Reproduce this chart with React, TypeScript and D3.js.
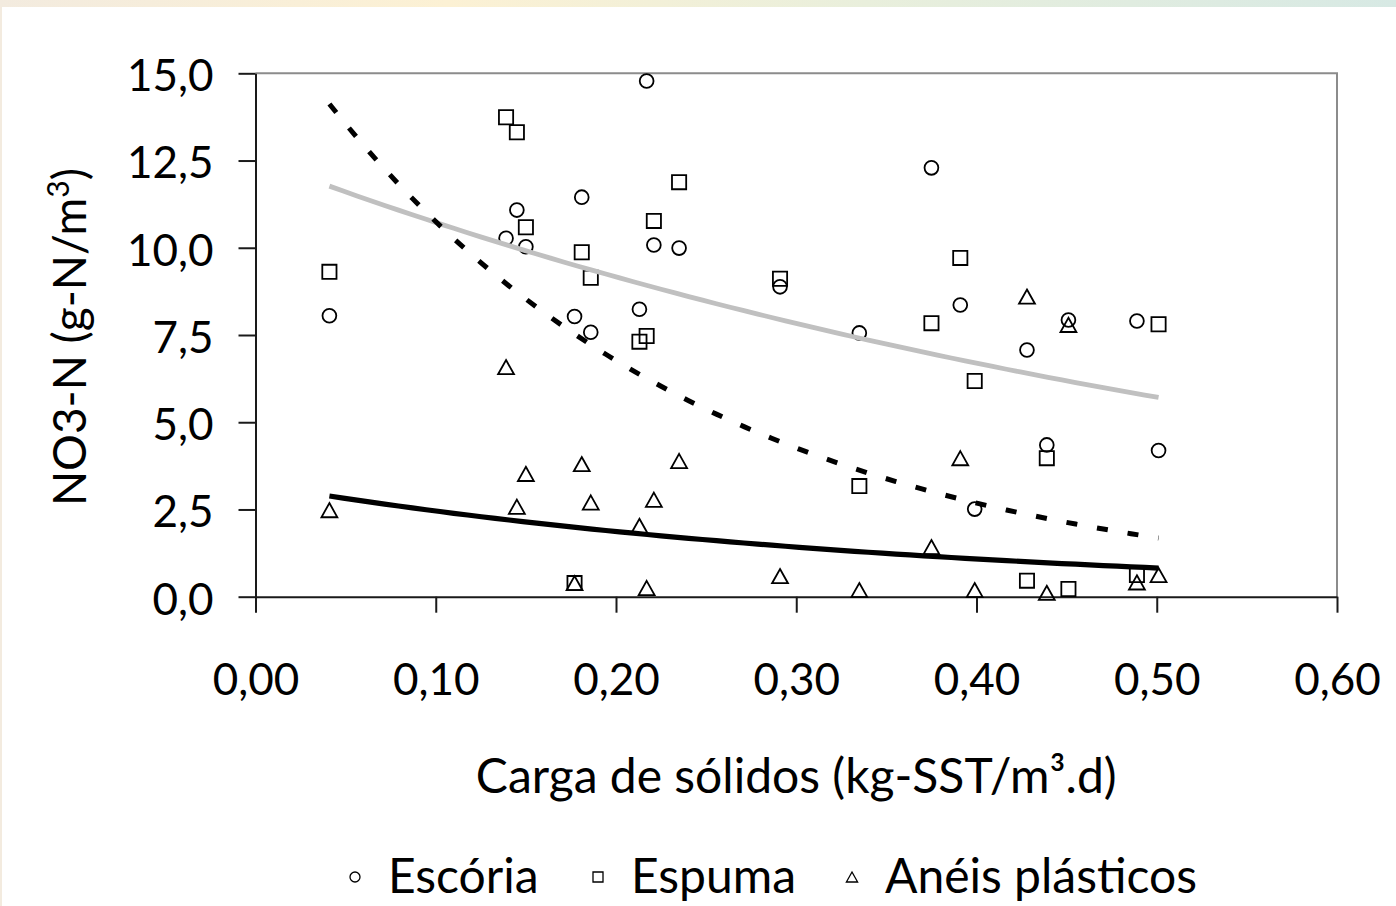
import React, { useEffect, useRef } from 'react';
import * as d3 from 'd3';

// Carga de sólidos (kg-SST/m³.d) – shared by the three media
const carga = [0.041, 0.139, 0.145, 0.150, 0.177, 0.181, 0.186, 0.213, 0.217, 0.221, 0.235,
  0.291, 0.335, 0.375, 0.391, 0.399, 0.428, 0.439, 0.451, 0.489, 0.501];

// NO3-N (g-N/m³)
const escoria = [8.05, 10.27, 11.08, 10.03, 8.03, 11.45, 7.58, 8.24, 14.78, 10.08, 9.99,
  8.88, 7.56, 12.29, 8.36, 2.51, 7.07, 4.35, 7.93, 7.90, 4.19];
const espuma = [9.31, 13.74, 13.31, 10.59, 0.39, 9.87, 9.14, 7.31, 7.47, 10.77, 11.88,
  9.11, 3.17, 7.84, 9.71, 6.18, 0.46, 3.97, 0.22, 0.62, 7.81];
const aneis = [2.48, 6.58, 2.58, 3.52, 0.39, 3.80, 2.70, 2.03, 0.25, 2.78, 3.89,
  0.59, 0.19, 1.42, 3.97, 0.19, 8.60, 0.11, 7.79, 0.41, 0.62];

// exponential trendlines, y = a·e^(b·x)
const trendEscoria = { a: 12.55, b: -1.572 };
const trendEspuma = { a: 17.07, b: -4.625 };
const trendAneis = { a: 3.228, b: -2.733 };

const yTicks = [0, 2.5, 5, 7.5, 10, 12.5, 15];
const xTicks = [0, 0.1, 0.2, 0.3, 0.4, 0.5, 0.6];

const legendNames = ['Escória', 'Espuma', 'Anéis plásticos'];

const FONT = "Lato, 'Open Sans', sans-serif";

const ptBR = d3.formatLocale({ decimal: ',', thousands: '.', grouping: [3], currency: ['', ''] });

// marker path centred on its bounding box
const markerPath = (shape: string, s: number) => {
  const h = s / 2;
  if (shape === 'circle') {
    const p = d3.path();
    p.arc(0, 0, h, 0, Math.PI * 2);
    p.closePath();
    return p.toString();
  }
  if (shape === 'square') return `M${-h},${-h}H${h}V${h}H${-h}Z`;
  const w = s * 0.56;
  return `M0,${-h}L${w},${h}L${-w},${h}Z`;
};

const App = () => {
  const svgRef = useRef<SVGSVGElement>(null);

  useEffect(() => {
    const W = 1396;
    const H = 906;
    const svg = d3.select(svgRef.current);
    svg.selectAll('*').remove();

    // background frame strip
    const defs = svg.append('defs');
    const grad = defs.append('linearGradient').attr('id', 'topStrip').attr('x1', 0).attr('x2', 1);
    [['0', '#f3ebdf'], ['0.32', '#fcf1d4'], ['0.62', '#e9efdc'], ['1', '#d7e9e4']].forEach(([o, c]) =>
      grad.append('stop').attr('offset', o).attr('stop-color', c));
    svg.append('rect').attr('width', W).attr('height', H).attr('fill', '#ffffff');
    svg.append('rect').attr('width', W).attr('height', 7).attr('fill', 'url(#topStrip)');
    svg.append('rect').attr('y', 7).attr('width', 2).attr('height', H - 7).attr('fill', '#f3ebdf');

    const x = d3.scaleLinear().domain([0, 0.6]).range([255.5, 1337]);
    const y = d3.scaleLinear().domain([0, 15]).range([596.7, 73.3]);

    // plot frame (top/right)
    svg.append('path')
      .attr('d', `M${x(0)},${y(15)}H${x(0.6)}V${y(0)}`)
      .attr('fill', 'none')
      .attr('stroke', '#8c8c8c')
      .attr('stroke-width', 2);

    const yFmt = ptBR.format('.1f');
    const xFmt = ptBR.format('.2f');

    const yAxis = svg.append('g')
      .attr('transform', `translate(${x(0)},0)`)
      .call(d3.axisLeft(y).tickValues(yTicks).tickSize(17).tickSizeOuter(0).tickPadding(25).tickFormat(d => yFmt(d as number)));
    const xAxis = svg.append('g')
      .attr('transform', `translate(0,${y(0)})`)
      .call(d3.axisBottom(x).tickValues(xTicks).tickSize(16).tickSizeOuter(0).tickFormat(d => xFmt(d as number)));

    [yAxis, xAxis].forEach(g => {
      g.select('.domain').attr('stroke', '#1a1a1a').attr('stroke-width', 2);
      g.selectAll('.tick line').attr('stroke', '#1a1a1a').attr('stroke-width', 2);
      g.selectAll('.tick text')
        .attr('fill', '#000')
        .style('font-family', FONT)
        .style('font-size', '44px');
    });
    yAxis.selectAll('.tick text').attr('dy', 17.4);
    xAxis.selectAll('.tick text').attr('y', 98).attr('dy', 0);

    // axis titles
    const yTitle = svg.append('text')
      .attr('transform', `translate(86,${(y(0) + y(15)) / 2 + 2}) rotate(-90)`)
      .attr('text-anchor', 'middle')
      .style('font-family', FONT)
      .style('font-size', '46px')
      .attr('fill', '#000');
    yTitle.append('tspan').text('NO3-N (g-N/m');
    yTitle.append('tspan').attr('dy', -17).style('font-size', '30px').text('3');
    yTitle.append('tspan').attr('dy', 17).text(')');

    svg.append('text')
      .attr('x', (x(0) + x(0.6)) / 2)
      .attr('y', 793)
      .attr('text-anchor', 'middle')
      .style('font-family', FONT)
      .style('font-size', '48px')
      .attr('fill', '#000')
      .text('Carga de sólidos (kg-SST/m³.d)');

    const series = [
      { name: legendNames[0], values: escoria, shape: 'circle', trend: trendEscoria, color: '#c0c0c0', width: 4.8, dash: null },
      { name: legendNames[1], values: espuma, shape: 'square', trend: trendEspuma, color: '#000', width: 5, dash: '11,20' },
      { name: legendNames[2], values: aneis, shape: 'triangle', trend: trendAneis, color: '#000', width: 5.2, dash: null },
    ];

    // markers
    series.forEach(s => {
      svg.append('g')
        .selectAll('path')
        .data(s.values.map((v, i) => [carga[i], v]))
        .enter()
        .append('path')
          .attr('transform', d => `translate(${x(d[0])},${y(d[1])})`)
          .attr('d', markerPath(s.shape, s.shape === 'circle' ? 13.8 : 14.2))
          .attr('fill', 'none')
          .attr('stroke', '#000')
          .attr('stroke-width', 1.8);
    });

    // trendlines on top
    const [x0, x1] = d3.extent(carga) as [number, number];
    const xs = d3.range(0, 61).map(i => x0 + (x1 - x0) * i / 60);
    const line = d3.line<number[]>().x(d => x(d[0])).y(d => y(d[1]));
    series.forEach(s => {
      svg.append('path')
        .datum(xs.map(v => [v, s.trend.a * Math.exp(s.trend.b * v)]))
        .attr('d', line)
        .attr('fill', 'none')
        .attr('stroke', s.color)
        .attr('stroke-width', s.width)
        .attr('stroke-dasharray', s.dash)
        .attr('stroke-linejoin', 'round');
    });

    // legend
    const legendX = [355, 598, 852];
    series.forEach((s, i) => {
      const g = svg.append('g').attr('transform', `translate(${legendX[i]},877)`);
      g.append('path')
        .attr('d', markerPath(s.shape, 10))
        .attr('fill', 'none')
        .attr('stroke', '#000')
        .attr('stroke-width', 1.3);
      g.append('text')
        .attr('x', 33)
        .attr('y', 16)
        .style('font-family', FONT)
        .style('font-size', '48px')
        .attr('fill', '#000')
        .text(s.name);
    });
  }, []);

  return (
    <svg
      ref={svgRef}
      width={1396}
      height={906}
      style={{ position: 'absolute', left: 0, top: 0, display: 'block' }}
    />
  );
};

export default App;
